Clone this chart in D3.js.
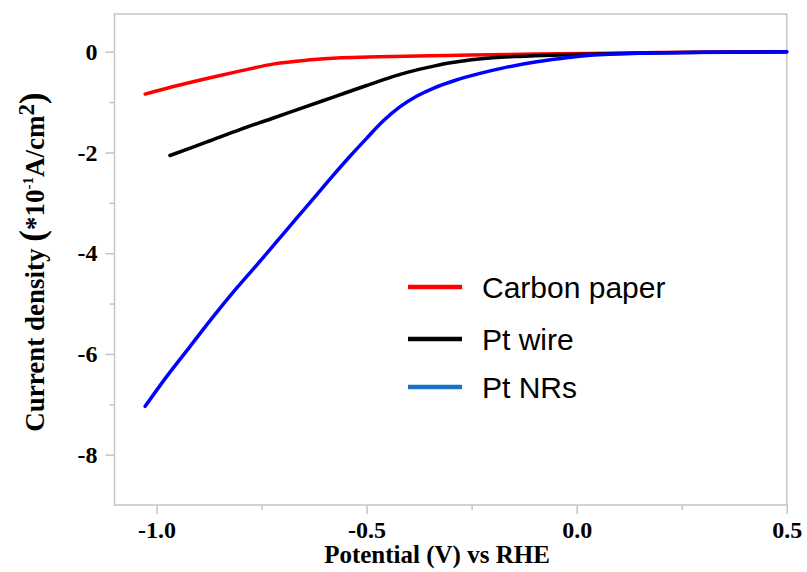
<!DOCTYPE html>
<html lang="en">
<head>
  <meta charset="UTF-8">
  <title>LSV curves</title>
  <script src="https://cdn.jsdelivr.net/npm/d3@7.6.1/dist/d3.min.js"></script>
  <style>
    body { margin: 0; background: #fff; }
    svg { display: block; }
  </style>
</head>
<body>
  <div id="chart"></div>
  <script>
    const width = 807
    const height = 572
    const margin = { left: 114.5, right: 20.3, top: 14, bottom: 67 }

    // series names and colours (legend blue differs from the plotted blue)
    const seriesNames = ['Carbon paper', 'Pt wire', 'Pt NRs']
    const lineColors = ['#ff0000', '#000000', '#0000ff']
    const legendColors = ['#ff0000', '#000000', '#1a73c7']

    // Carbon paper
    const cpV = [-1.027, -0.96, -0.88, -0.80, -0.72, -0.64, -0.56, -0.47, -0.35, -0.25, -0.10, 0.03, 0.20, 0.35, 0.50]
    const cpJ = [-0.84, -0.69, -0.53, -0.38, -0.24, -0.165, -0.12, -0.10, -0.08, -0.065, -0.045, -0.032, -0.015, -0.005, 0]
    // Pt wire
    const ptwV = [-0.968, -0.88, -0.80, -0.72, -0.658, -0.579, -0.50, -0.42, -0.38, -0.34, -0.30, -0.25, -0.20, -0.15, -0.10, -0.015, 0.10, 0.25, 0.50]
    const ptwJ = [-2.06, -1.79, -1.54, -1.31, -1.13, -0.90, -0.67, -0.45, -0.36, -0.285, -0.22, -0.16, -0.12, -0.095, -0.08, -0.06, -0.035, -0.015, 0]
    // Pt NRs
    const ptnV = [-1.027, -0.976, -0.92, -0.865, -0.809, -0.761, -0.714, -0.666, -0.619, -0.579, -0.54, -0.50, -0.46, -0.42, -0.38, -0.34, -0.29, -0.23, -0.174, -0.095, -0.015, 0.032, 0.15, 0.30, 0.50]
    const ptnJ = [-7.04, -6.45, -5.85, -5.26, -4.69, -4.23, -3.77, -3.30, -2.84, -2.45, -2.08, -1.72, -1.37, -1.09, -0.88, -0.72, -0.57, -0.43, -0.32, -0.20, -0.11, -0.07, -0.03, -0.012, 0]

    const xTicks = [-1.0, -0.5, 0.0, 0.5]
    const xMinor = [-0.75, -0.25, 0.25]
    const yTicks = [0, -2, -4, -6, -8]
    const yMinor = [-1, -3, -5, -7]

    const series = [[cpV, cpJ], [ptwV, ptwJ], [ptnV, ptnJ]].map(([v, j]) => v.map((d, i) => [d, j[i]]))

    const x = d3.scaleLinear().domain([-1.1, 0.5]).range([margin.left, width - margin.right])
    const y = d3.scaleLinear().domain([-9, 0.75]).range([height - margin.bottom, margin.top])

    const svg = d3.select('#chart').append('svg')
      .attr('width', width)
      .attr('height', height)

    const serif = 'Liberation Serif, Times New Roman, serif'
    const gray = '#c4c4c4'

    // frame
    svg.append('rect')
      .attr('x', x(-1.1)).attr('y', y(0.75))
      .attr('width', x(0.5) - x(-1.1)).attr('height', y(-9) - y(0.75))
      .attr('fill', 'none').attr('stroke', gray).attr('stroke-width', 1.5)

    // x axis
    const xAxis = svg.append('g').attr('transform', `translate(0,${y(-9)})`)
      .call(d3.axisBottom(x).tickValues(xTicks).tickSize(9).tickPadding(7).tickFormat(d3.format('.1f')))
    xAxis.select('.domain').remove()
    svg.append('g').attr('transform', `translate(0,${y(-9)})`)
      .call(d3.axisBottom(x).tickValues(xMinor).tickSize(5).tickFormat(''))
      .select('.domain').remove()

    // y axis
    const yAxis = svg.append('g').attr('transform', `translate(${x(-1.1)},0)`)
      .call(d3.axisLeft(y).tickValues(yTicks).tickSize(9).tickPadding(8).tickFormat(d3.format('d')))
    yAxis.select('.domain').remove()
    svg.append('g').attr('transform', `translate(${x(-1.1)},0)`)
      .call(d3.axisLeft(y).tickValues(yMinor).tickSize(5).tickFormat(''))
      .select('.domain').remove()

    svg.selectAll('.tick line').attr('stroke', gray).attr('stroke-width', 1.5)
    svg.selectAll('.tick text')
      .attr('font-family', serif).attr('font-size', 24).attr('font-weight', 'bold').attr('fill', '#000')
      .text(function () { return d3.select(this).text().replace('−', '-') })

    // curves
    const line = d3.line().x(d => x(d[0])).y(d => y(d[1])).curve(d3.curveCatmullRom.alpha(0.5))
    svg.selectAll('path.curve').data(series)
      .enter().append('path')
      .attr('class', 'curve')
      .attr('d', line)
      .attr('fill', 'none')
      .attr('stroke', (d, i) => lineColors[i])
      .attr('stroke-width', 3.5)
      .attr('stroke-linecap', 'round')

    // legend
    const legendY = [287, 339, 387]
    const lg = svg.selectAll('g.legend').data(seriesNames)
      .enter().append('g')
      .attr('class', 'legend')
      .attr('transform', (d, i) => `translate(408,${legendY[i]})`)
    lg.append('line')
      .attr('x1', 0).attr('x2', 54)
      .attr('stroke', (d, i) => legendColors[i])
      .attr('stroke-width', 4.5)
    lg.append('text')
      .attr('x', 74).attr('y', 11)
      .attr('font-family', 'Liberation Sans, Arial, sans-serif')
      .attr('font-size', 30)
      .attr('fill', '#000')
      .text(d => d)

    // axis titles
    svg.append('text')
      .attr('x', 437).attr('y', 563)
      .attr('text-anchor', 'middle')
      .attr('font-family', serif).attr('font-size', 25).attr('font-weight', 'bold')
      .text('Potential (V) vs RHE')

    const yt = svg.append('text')
      .attr('transform', 'translate(44,262) rotate(-90)')
      .attr('text-anchor', 'middle')
      .attr('font-family', serif).attr('font-size', 27).attr('font-weight', 'bold')
    yt.append('tspan').text('Current density ')
    yt.append('tspan').attr('font-size', 35).text('(')
    yt.append('tspan').text('*10')
    yt.append('tspan').attr('font-size', 15).attr('dy', -11).text('-1')
    yt.append('tspan').attr('dy', 11).text('A/cm')
    yt.append('tspan').attr('font-size', 23).attr('dy', -10).text('2')
    yt.append('tspan').attr('font-size', 35).attr('dy', 10).text(')')
  </script>
</body>
</html>
